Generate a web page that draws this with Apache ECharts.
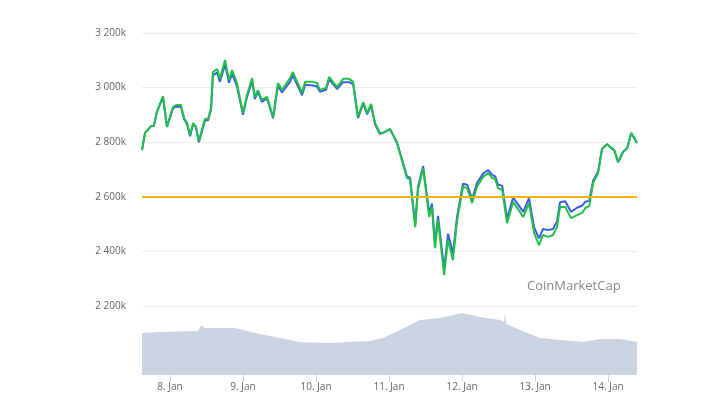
<!DOCTYPE html>
<html><head><meta charset="utf-8">
<script src="https://cdn.jsdelivr.net/npm/echarts@6/dist/echarts.min.js"></script>
<style>html,body{margin:0;padding:0;background:#fff}#c{width:711px;height:400px}</style>
</head><body><div id="c"></div>
<script>
// hours since 8 Jan 00:00
const hours = [-9.2,-8.2,-6.2,-5.3,-4.3,-2.3,-1.0,1.0,2.0,3.6,4.6,5.6,6.6,7.6,8.5,9.5,11.5,12.5,13.5,14.1,15.5,16.4,18.1,19.4,20.4,22.0,24.0,25.3,27.0,27.9,28.9,30.2,31.9,33.9,35.5,36.8,39.5,40.4,43.4,44.4,47.0,48.3,49.3,51.3,52.3,54.9,56.9,58.9,60.2,61.8,63.5,64.8,66.1,67.4,69.0,
70.0,72.3,74.6,77.9,78.9,80.6,81.5,83.2,85.2,86.1,87.1,88.1,90.1,91.4,93.0,94.4,96.3,97.7,99.3,100.9,102.9,104.6,105.9,106.9,107.8,109.2,110.8,112.8,114.4,116.1,118.0,119.7,121.3,122.6,124.3,125.9,127.2,128.2,129.9,131.8,133.8,135.5,136.5,137.8,139.1,140.7,142.0,143.7,144.7,146.0,147.3,148.9,150.3,151.6,153.5];
const green = [2771,2834,2859,2859,2911,2969,2856,2929,2936,2936,2889,2870,2826,2870,2859,2804,2885,2885,2925,3057,3068,3032,3101,3028,3064,3017,2907,2973,3035,2966,2991,2955,2966,2892,3017,2991,3035,3057,2980,3021,3021,3017,2991,2999,3039,3002,3032,3032,3021,2892,2947,2907,2940,2870,2834,
2834,2848,2797,2669,2665,2489,2625,2705,2526,2563,2412,2515,2314,2442,2368,2515,2636,2632,2577,2636,2673,2687,2669,2665,2632,2625,2504,2581,2555,2526,2577,2467,2423,2460,2453,2460,2489,2563,2563,2522,2533,2541,2559,2566,2651,2687,2775,2793,2782,2771,2727,2764,2779,2834,2797];
const blue = [2771,2834,2859,2859,2911,2965,2856,2925,2930,2930,2885,2866,2822,2866,2855,2800,2880,2880,2920,3045,3055,3022,3085,3018,3050,3005,2900,2965,3025,2958,2985,2948,2960,2888,3008,2982,3022,3045,2972,3010,3008,3005,2985,2992,3030,2995,3020,3020,3012,2888,2942,2902,2935,2866,2830,
2834,2848,2800,2675,2670,2500,2635,2712,2540,2575,2430,2530,2335,2465,2392,2530,2648,2644,2592,2650,2685,2698,2680,2675,2645,2640,2520,2597,2572,2545,2595,2488,2448,2482,2478,2482,2510,2580,2584,2545,2560,2568,2582,2585,2660,2692,2775,2793,2782,2771,2727,2764,2779,2834,2797];
const volHours = [-9.2,-3.3,9.2,10.3,10.8,11.3,21.4,27.9,36.2,42.7,52.6,65.8,70.0,75.6,82.2,88.8,96.0,101.9,108.5,109.8,110.0,110.3,110.6,115.1,121.7,128.2,135.8,141.4,148.0,153.5];
const volume = [41,42,43,49,49,46,46,41,36,32,31,33,36,44,54,56,61,57,54,52,61,61,50,44,36,34,32,35,35,32];
const dayTicks = [0,24,48,72,96,120,144];
const yTicks = [2200,2400,2600,2800,3000,3200];
const refLevel = 2600;

const zip = (a,b)=>a.map((v,i)=>[v,b[i]]);
const chart = echarts.init(document.getElementById('c'));
chart.setOption({
  animation:false,
  grid:[{left:142,right:74,top:33,bottom:94},{left:142,right:74,top:308,bottom:26}],
  xAxis:[
    {type:'value',gridIndex:0,min:-9.2,max:153.5,show:false},
    {type:'value',gridIndex:1,min:-9.2,max:153.5,
     axisLine:{lineStyle:{color:'#ccd6eb'}},splitLine:{show:false},
     axisTick:{customValues:dayTicks,lineStyle:{color:'#ccd6eb'},length:8},
     axisLabel:{customValues:dayTicks,color:'#666',fontSize:10,fontFamily:'Open Sans',formatter:v=>(8+v/24)+'. Jan'}}
  ],
  yAxis:[
    {type:'value',gridIndex:0,min:2200,max:3200,interval:200,
     axisLine:{show:false},axisTick:{show:false},
     splitLine:{lineStyle:{color:'#ececec'}},
     axisLabel:{color:'#666',fontSize:10,fontFamily:'Open Sans',margin:16,
       formatter:v=>String(v).replace(/(\d)(\d{3})$/,'$1 $2')+'k'}},
    {type:'value',gridIndex:1,min:0,max:66,show:false}
  ],
  graphic:[{type:'text',left:527,top:280,style:{text:'CoinMarketCap',fill:'#888',fontSize:13,fontFamily:'Open Sans'}}],
  series:[
    {type:'line',xAxisIndex:1,yAxisIndex:1,data:zip(volHours,volume),symbol:'none',
     lineStyle:{width:0},areaStyle:{color:'#ccd3e2',opacity:1}},
    {type:'line',data:zip(hours,blue),symbol:'none',lineStyle:{color:'#3a5fe0',width:2},
     markLine:{silent:true,symbol:'none',label:{show:false},lineStyle:{color:'#f5b400',width:2,type:'solid'},data:[{yAxis:refLevel}]}},
    {type:'line',data:zip(hours,green),symbol:'none',lineStyle:{color:'#22c04a',width:2}}
  ]
});
</script></body></html>
